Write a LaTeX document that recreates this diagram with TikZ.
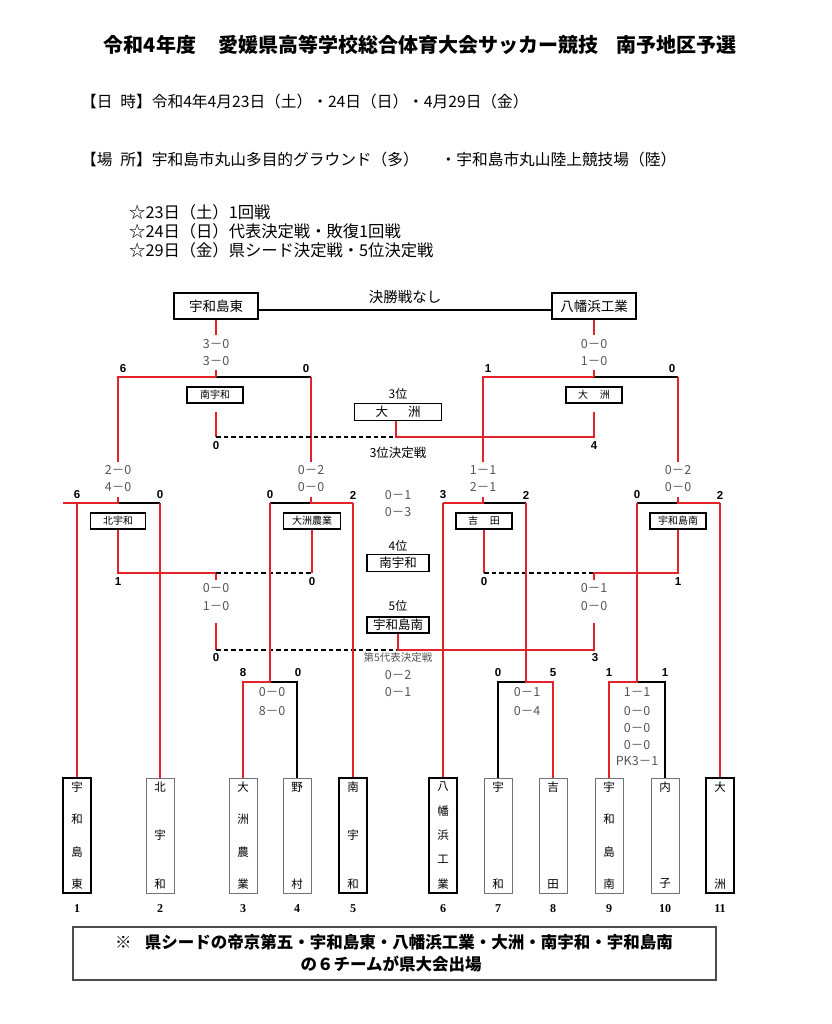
\documentclass[tikz,border=0pt]{standalone}
\usepackage{fontspec}
\setmainfont{Noto Sans CJK JP}
\newfontfamily\numf{Liberation Sans}
\newfontfamily\serf{Liberation Serif}
\definecolor{bred}{HTML}{E2232A}
\definecolor{sgray}{HTML}{555555}
\tikzset{
 rl/.style={draw=bred, line width=2.2pt},
 bl/.style={draw=black, line width=1.2pt},
 dl/.style={draw=black, line width=1.3pt, dash pattern=on 4.5pt off 3pt},
 sbox/.style={draw=black, line width=1.3pt, inner sep=0pt, minimum height=16pt, font=\fontsize{10}{11}\selectfont},
 mbox/.style={draw=black, line width=1.4pt, inner sep=0pt, minimum height=17pt, minimum width=62pt, font=\fontsize{12.5}{13}\selectfont},
 tbox/.style={draw=black, line width=1.4pt, inner sep=0pt, minimum height=26pt, minimum width=84pt, font=\fontsize{13.5}{14}\selectfont},
 score/.style={inner sep=0pt, text=sgray, font=\fontsize{12.5}{12}\selectfont},
 bnum/.style={inner sep=0pt, font=\numf\bfseries\fontsize{11.5}{12}\selectfont},
 lab/.style={inner sep=0pt, font=\fontsize{12.5}{13}\selectfont},
 teamthick/.style={draw=black, line width=2.6pt, minimum width=28pt, minimum height=115pt, inner sep=0pt},
 teamthin/.style={draw=black!55, line width=0.9pt, minimum width=28pt, minimum height=115pt, inner sep=0pt},
 vchar/.style={inner sep=0pt, font=\fontsize{11.5}{12}\selectfont},
 tnum/.style={inner sep=0pt, font=\serf\bfseries\fontsize{12}{12}\selectfont},
 hdr/.style={inner sep=0pt, anchor=west, font=\fontsize{15.7}{16}\selectfont},
 star/.style={inner sep=0pt, anchor=west, font=\fontsize{16.3}{17}\selectfont},
}
\newcommand\sco[4]{\node[score] (#1) at (#2,#3) {#4};}
\newcommand\bn[4]{\node[bnum] (#1) at (#2,#3) {#4};}
\newcommand\vteam[6]{%
 \node[#3] (#1) at (#2,835.5) {};
 \foreach \ch [count=\kk from 0] in {#5} {\pgfmathsetmacro\yy{787+\kk*97/(#4-1)}\node[vchar] (#1c\kk) at (#2,\yy) {\ch};}
 \node[tnum] (#1n) at (#2,909) {#6};
}
\begin{document}
\begin{tikzpicture}[x=1pt,y=-1pt]
\fill[white] (0,0) rectangle (831,1024);
\useasboundingbox (0,0) rectangle (831,1024);

% ---------- header ----------
\node[inner sep=0pt, font=\bfseries\fontsize{20}{20}\selectfont] (title) at (420,45) {令和4年度\hspace{1.1em}愛媛県高等学校総合体育大会サッカー競技\hspace{0.9em}南予地区予選};
\node[hdr] (date) at (81,102) {【日\hspace{0.5em}時】令和4年4月23日（土）・24日（日）・4月29日（金）};
\node[hdr] (place) at (81,160) {【場\hspace{0.5em}所】宇和島市丸山多目的グラウンド（多）\hspace{1.4em}・宇和島市丸山陸上競技場（陸）};
\node[star] (d1) at (129,212) {☆23日（土）1回戦};
\node[star] (d2) at (129,231) {☆24日（日）代表決定戦・敗復1回戦};
\node[star] (d3) at (129,250) {☆29日（金）県シード決定戦・5位決定戦};

% ---------- top finalists ----------
\node[tbox] (uwe) at (216,306) {宇和島東};
\node[tbox] (yht) at (594,306) {八幡浜工業};
\node[inner sep=0pt, font=\fontsize{14.5}{15}\selectfont] (nofinal) at (405,297) {決勝戦なし};
\coordinate (fl) at (258,310); \coordinate (fr) at (552,310);
\draw[bl] (fl) -- (fr);

% left semi
\coordinate (uA) at (216,335);
\coordinate (tA) at (216,377); \coordinate (tAt) at (216,370);
\coordinate (tL) at (118,377); \coordinate (tR) at (311,377);
\coordinate (tLd) at (118,462); \coordinate (tRd) at (311,462);
\draw[rl] (uwe.south) -- (uA);
\draw[bl] (tA) -- (tR);
\draw[rl] (tAt) -- (tA);
\draw[rl] (tLd) -- (tL) -- (tA);
\draw[rl] (tR) -- (tRd);
\sco{s1}{216}{344}{3－0}
\sco{s2}{216}{361}{3－0}
\bn{n1}{123}{369}{6}
\bn{n2}{306}{369}{0}

% right semi
\coordinate (uB) at (594,335);
\coordinate (tB) at (594,377); \coordinate (tBt) at (594,370);
\coordinate (tBL) at (483,377); \coordinate (tBR) at (678,377);
\coordinate (tBLd) at (483,462); \coordinate (tBRd) at (678,462);
\draw[rl] (yht.south) -- (uB);
\draw[bl] (tB) -- (tBR);
\draw[rl] (tBt) -- (tB);
\draw[rl] (tBLd) -- (tBL) -- (tB);
\draw[rl] (tBR) -- (tBRd);
\sco{s3}{594}{344}{0－0}
\sco{s4}{594}{361}{1－0}
\bn{n3}{488}{369}{1}
\bn{n4}{672}{369}{0}

% 3rd place
\node[sbox, minimum width=56pt] (minu1) at (215,395) {南宇和};
\node[sbox, minimum width=56pt] (ozu1) at (594,395) {大\hspace{1.2em}洲};
\node[mbox, minimum width=87pt] (third) at (398,412) {大\hspace{1.6em}洲};
\node[lab, font=\fontsize{12}{12}\selectfont] (thirdl) at (398,394) {3位};
\coordinate (q1) at (216,412); \coordinate (q1b) at (216,437);
\coordinate (q2) at (594,412); \coordinate (q2b) at (594,437);
\coordinate (q3) at (396,437);
\draw[rl] (q1) -- (q1b);
\draw[dl] (q1b) -- (q3);
\draw[rl] (third.south -| q3) -- (q3) -- (q2b) -- (q2);
\bn{n5}{216}{446}{0}
\bn{n6}{594}{446}{4}
\node[lab] (thirdm) at (398,453) {3位決定戦};

% scores of 2nd round
\sco{s5}{118}{470}{2－0}
\sco{s6}{118}{487}{4－0}
\sco{s7}{311}{470}{0－2}
\sco{s8}{311}{487}{0－0}
\sco{s9}{483}{470}{1－1}
\sco{s10}{483}{487}{2－1}
\sco{s11}{678}{470}{0－2}
\sco{s12}{678}{487}{0－0}
\sco{s13}{398}{495}{0－1}
\sco{s14}{398}{512}{0－3}

% mid level brackets y=503
\coordinate (mA0) at (63,503); \coordinate (mA1) at (77,503); \coordinate (mA2) at (118,503); \coordinate (mA3) at (160,503); \coordinate (mA2t) at (118,497);
\coordinate (mB1) at (270,503); \coordinate (mB2) at (311,503); \coordinate (mB3) at (353,503); \coordinate (mB2t) at (311,497);
\coordinate (mC1) at (443,503); \coordinate (mC2) at (483,503); \coordinate (mC3) at (526,503); \coordinate (mC2t) at (483,497);
\coordinate (mD1) at (637,503); \coordinate (mD2) at (678,503); \coordinate (mD3) at (720,503); \coordinate (mD2t) at (678,497);
\draw[bl] (mA2) -- (mA3);
\draw[bl] (mB1) -- (mB2);
\draw[bl] (mC2) -- (mC3);
\draw[bl] (mD1) -- (mD2);
\draw[rl] (mA0) -- (mA2) -- (mA2t);
\draw[rl] (mB3) -- (mB2) -- (mB2t);
\draw[rl] (mC1) -- (mC2) -- (mC2t);
\draw[rl] (mD3) -- (mD2) -- (mD2t);
\bn{n7}{77}{495}{6}
\bn{n8}{160}{495}{0}
\bn{n9}{270}{495}{0}
\bn{n10}{353}{495}{2}
\bn{n11}{443}{495}{3}
\bn{n12}{526}{495}{2}
\bn{n13}{637}{495}{0}
\bn{n14}{720}{495}{2}

% 4th place
\node[lab, font=\fontsize{12}{12}\selectfont] (fourthl) at (398,546) {4位};
\node[mbox] (fourth) at (398,563) {南宇和};

% losers boxes
\node[sbox, minimum width=55pt] (kita) at (118,521) {北宇和};
\node[sbox, minimum width=57pt] (ozun) at (312,521) {大洲農業};
\node[sbox, minimum width=56pt] (yosh) at (484,521) {吉\hspace{1.2em}田};
\node[sbox, minimum width=56pt] (uwm) at (678,521) {宇和島南};

\coordinate (lA) at (118,573); \coordinate (lB) at (216,573); \coordinate (lBt) at (216,580); \coordinate (lC) at (312,573);
\coordinate (lD) at (484,573); \coordinate (lE) at (594,573); \coordinate (lEt) at (594,580); \coordinate (lF) at (678,573);
\draw[rl] (kita.south) -- (lA) -- (lB) -- (lBt);
\draw[dl] (lB) -- (lC);
\draw[rl] (ozun.south) -- (lC);
\draw[rl] (yosh.south) -- (lD);
\draw[dl] (lD) -- (lE);
\draw[rl] (lEt) -- (lE) -- (lF) -- (uwm.south);
\bn{n15}{118}{582}{1}
\bn{n16}{312}{582}{0}
\bn{n17}{484}{582}{0}
\bn{n18}{678}{582}{1}
\sco{s15}{216}{588}{0－0}
\sco{s16}{216}{606}{1－0}
\sco{s17}{594}{588}{0－1}
\sco{s18}{594}{606}{0－0}

% 5th place
\node[lab, font=\fontsize{12}{12}\selectfont] (fifthl) at (398,606) {5位};
\node[mbox, minimum height=16pt] (fifth) at (398,625) {宇和島南};
\coordinate (pA) at (216,623); \coordinate (pAb) at (216,650);
\coordinate (pB) at (594,623); \coordinate (pBb) at (594,650);
\coordinate (pC) at (398,650);
\draw[rl] (pA) -- (pAb);
\draw[dl] (pAb) -- (pC);
\draw[rl] (fifth.south) -- (pC) -- (pBb) -- (pB);
\bn{n19}{216}{658}{0}
\bn{n20}{595}{658}{3}
\node[inner sep=0pt, text=sgray, font=\fontsize{10.5}{11}\selectfont] (fifthm) at (398,658) {第5代表決定戦};
\sco{s19}{398}{675}{0－2}
\sco{s20}{398}{692}{0－1}

% ---------- teams ----------
\vteam{t1}{77}{teamthick}{4}{宇,和,島,東}{1}
\vteam{t2}{160}{teamthin}{3}{北,宇,和}{2}
\vteam{t3}{243}{teamthin}{4}{大,洲,農,業}{3}
\vteam{t4}{297}{teamthin}{2}{野,村}{4}
\vteam{t5}{353}{teamthick}{3}{南,宇,和}{5}
\vteam{t6}{443}{teamthick}{5}{八,幡,浜,工,業}{6}
\vteam{t7}{498}{teamthin}{2}{宇,和}{7}
\vteam{t8}{553}{teamthin}{2}{吉,田}{8}
\vteam{t9}{609}{teamthin}{4}{宇,和,島,南}{9}
\vteam{t10}{665}{teamthin}{2}{内,子}{10}
\vteam{t11}{720}{teamthick}{2}{大,洲}{11}

% vertical lines from mid level
\draw[rl] (mA1) -- (t1.north);
\draw[rl] (mA3) -- (t2.north);
\draw[rl] (mB3) -- (t5.north);
\draw[rl] (mC1) -- (t6.north);
\draw[rl] (mD3) -- (t11.north);

% first round groups y=682
\coordinate (g1a) at (243,682); \coordinate (g1m) at (270,682); \coordinate (g1b) at (297,682);
\coordinate (g2a) at (498,682); \coordinate (g2m) at (526,682); \coordinate (g2b) at (553,682);
\coordinate (g3a) at (609,682); \coordinate (g3m) at (637,682); \coordinate (g3b) at (665,682);
\draw[bl] (t4.north) -- (g1b) -- (g1m);
\draw[bl] (t7.north) -- (g2a) -- (g2m);
\draw[bl] (t10.north) -- (g3b) -- (g3m);
\draw[rl] (t3.north) -- (g1a) -- (g1m) -- (mB1);
\draw[rl] (t8.north) -- (g2b) -- (g2m) -- (mC3);
\draw[rl] (t9.north) -- (g3a) -- (g3m) -- (mD1);
\bn{n21}{243}{673}{8}
\bn{n22}{298}{673}{0}
\bn{n23}{498}{673}{0}
\bn{n24}{553}{673}{5}
\bn{n25}{609}{673}{1}
\bn{n26}{665}{673}{1}
\sco{s21}{272}{692}{0－0}
\sco{s22}{272}{711}{8－0}
\sco{s23}{527}{692}{0－1}
\sco{s24}{527}{711}{0－4}
\sco{s25}{637}{692}{1－1}
\sco{s26}{637}{711}{0－0}
\sco{s27}{637}{728}{0－0}
\sco{s28}{637}{745}{0－0}
\sco{s29}{637}{761}{PK3－1}

% ---------- note ----------
\node[draw=black!70, line width=1.3pt, minimum width=643pt, minimum height=53pt, inner sep=0pt] (note) at (394.5,953.5) {};
\node[inner sep=0pt, font=\bfseries\fontsize{16.5}{17}\selectfont] (note1) at (394,942) {※\hspace{0.8em}県シードの帝京第五・宇和島東・八幡浜工業・大洲・南宇和・宇和島南};
\node[inner sep=0pt, font=\bfseries\fontsize{16.5}{17}\selectfont] (note2) at (391,964) {の６チームが県大会出場};
\end{tikzpicture}
\end{document}
